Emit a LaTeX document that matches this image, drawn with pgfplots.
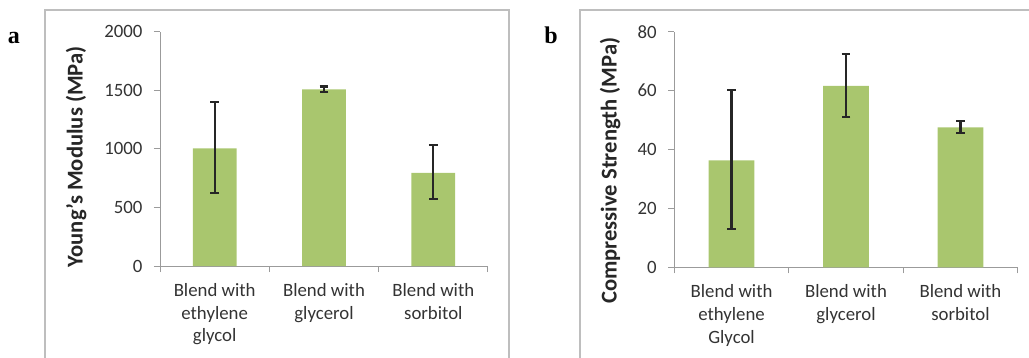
\documentclass[border=0pt]{standalone}
\usepackage{pgfplots}
\pgfplotsset{compat=1.18}
\usepackage{fontspec}
\setmainfont{Carlito}
\newfontfamily\libserif{Liberation Serif}
\definecolor{barg}{RGB}{169,198,110}
\definecolor{axg}{RGB}{155,155,155}
\definecolor{frg}{RGB}{190,190,190}
\definecolor{errc}{RGB}{38,38,38}
\pgfplotsset{
  mybar/.style={
    scale only axis,
    axis lines*=left,
    axis line style={axg, line width=1pt},
    xmin=0.5, xmax=3.5,
    ymin=0,
    xtick={1,2,3},
    minor xtick={0.5,1.5,2.5,3.5},
    major x tick style={draw=none},
    minor x tick style={axg, line width=1pt},
    y tick style={axg, line width=1pt},
    tick align=outside,
    major tick length=6pt,
    minor tick length=6pt,
    /pgf/number format/assume math mode=true,
    /pgf/number format/1000 sep={},
    tick label style={font=\fontsize{18.8}{22.7}\selectfont, text=black!80},
    xticklabel style={align=center, yshift=-8pt},
    yticklabel style={xshift=-8pt},
    ybar, bar width=0.4,
    every axis y label/.style={rotate=90, anchor=center, font=\fontsize{22.6}{24}\selectfont\bfseries, text=black!85},
  },
  myerr/.style={
    fill=barg, draw=none,
    error bars/.cd, y dir=both, y explicit,
    error bar style={line width=2.2pt, draw=errc, solid},
    error mark options={line width=2.2pt, draw=errc, solid, mark size=4.4pt, rotate=90},
  },
}
\begin{document}
\begin{tikzpicture}
\draw[frg, line width=1.3pt] (45pt,-5pt) -- (45pt,347pt) -- (509pt,347pt) -- (509pt,-5pt);
\draw[frg, line width=1.3pt] (580pt,-5pt) -- (580pt,347pt) -- (1040pt,347pt);
\node[font=\fontsize{24}{24}\selectfont\libserif\bfseries, anchor=base] at (14pt,313.5pt) {a};
\node[font=\fontsize{24}{24}\selectfont\libserif\bfseries, anchor=base] at (551pt,313.5pt) {b};
\begin{scope}[shift={(160pt,91pt)}]
\begin{axis}[mybar, width=328pt, height=234.3pt,
  ymax=2000, ytick={0,500,1000,1500,2000},
  xticklabels={{Blend with\\ethylene\\glycol},{Blend with\\glycerol},{Blend with\\sorbitol}},
  ylabel={Young's Modulus (MPa)},
  ylabel style={at={(axis description cs:-0.256,0.466)}},
]
\addplot[myerr] coordinates {
  (1,1005) += (0,397) -= (0,385)
  (2,1508) += (0,25) -= (0,22)
  (3,796) += (0,234) -= (0,227)
};
\end{axis}
\end{scope}
\begin{scope}[shift={(674.3pt,89.7pt)}]
\begin{axis}[mybar, width=343.4pt, height=235.6pt,
  ymax=80, ytick={0,20,40,60,80},
  xticklabels={{Blend with\\ethylene\\Glycol},{Blend with\\glycerol},{Blend with\\sorbitol}},
  ylabel={Compressive Strength (MPa)},
  ylabel style={at={(axis description cs:-0.187,0.41)}},
]
\addplot[myerr] coordinates {
  (1,36.3) += (0,23.9) -= (0,23.4)
  (2,61.6) += (0,10.8) -= (0,10.6)
  (3,47.5) += (0,2.3) -= (0,2.0)
};
\end{axis}
\end{scope}
\pgfresetboundingbox
\useasboundingbox (0pt,0pt) rectangle (1029pt,357pt);
\end{tikzpicture}
\end{document}
